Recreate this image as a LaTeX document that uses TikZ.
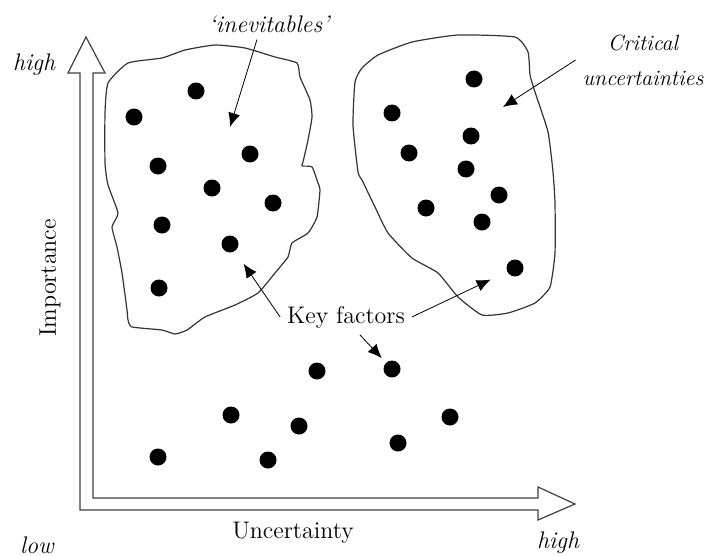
\documentclass[tikz,border=0pt]{standalone}
\usepackage{tikz}
\usetikzlibrary{arrows.meta}

\begin{document}
\begin{tikzpicture}[x=0.5pt,y=-0.5pt,>={Latex[length=7pt,width=6pt]},
    dot/.style={circle,fill=black,inner sep=0pt,minimum size=8.5pt},
    lbl/.style={font=\large\itshape},
    txt/.style={font=\large},
    blob/.style={black!80,line width=0.6pt,line join=round}]
            \useasboundingbox (0,0) rectangle (706,556);
            % axes
            \draw[black!75,line width=0.6pt](93,498)--(93,73)--(105,73)--(86,37)--(68,73)--(80,73)--(80,510)
                --(538,510)--(538,520)--(575,504)--(538,487)--(538,498)--cycle;
            \node[lbl](hiy) at(34,65){high};
            \node[lbl](low) at(37,545){low};
            \node[lbl](hix) at(558,543){high};
            \node[txt](unc) at(293,533){Uncertainty};
            \node[txt,rotate=90](imp) at(50,278){Importance};
            % the two groups
            \draw[blob] plot[smooth cycle,tension=0.3] coordinates{(108,83)(128,63)(162,58)(185,50)(215,45)(245,48)(275,57)(297,63)(300,77)(310,100)(312,117)(308,140)(303,162)(302,166)(312,167)(318,183)(320,190)(317,217)(308,233)(292,243)(288,257)(275,273)(258,293)(235,305)(205,317)(187,330)(175,334)(162,330)(132,327)(128,320)(127,310)(122,273)(117,247)(112,227)(118,213)(108,185)(105,163)(105,113)};
            \draw[blob] plot[smooth cycle,tension=0.3] coordinates{(355,82)(362,68)(378,55)(412,42)(458,35)(515,37)(528,52)(530,75)(535,92)(548,132)(553,172)(555,203)(555,253)(550,287)(535,303)(508,313)(482,315)(458,297)(438,273)(412,258)(388,233)(375,207)(362,180)(358,172)(353,125)};
            % factors
            \node[dot](i1) at(196,91){};  \node[dot](i2) at(134,117){}; \node[dot](i3) at(250,154){};
            \node[dot](i4) at(158,166){}; \node[dot](i5) at(212,188){}; \node[dot](i6) at(273,203){};
            \node[dot](i7) at(162,225){}; \node[dot](i8) at(230,244){}; \node[dot](i9) at(159,288){};
            \node[dot](c1) at(474,79){};  \node[dot](c2) at(392,113){}; \node[dot](c3) at(471,136){};
            \node[dot](c4) at(409,153){}; \node[dot](c5) at(466,169){}; \node[dot](c6) at(499,195){};
            \node[dot](c7) at(426,208){}; \node[dot](c8) at(482,222){}; \node[dot](c9) at(515,268){};
            \node[dot](o1) at(317,371){}; \node[dot](o2) at(392,369){}; \node[dot](o3) at(231,415){};
            \node[dot](o4) at(299,426){}; \node[dot](o5) at(450,417){}; \node[dot](o6) at(398,443){};
            \node[dot](o7) at(158,457){}; \node[dot](o8) at(268,460){};
            % labels and pointers
            \node[lbl](inev) at(269,24){`inevitables'};
            \node[font={\fontsize{11}{17.5}\selectfont\itshape},align=center](crit) at(643,60){Critical\\uncertainties};
            \node[txt](kf) at(346,317){Key factors};
            \coordinate(inevtip) at(230,127);
            \coordinate(crittip) at(503,107);
            \draw[->]([xshift=-6pt]inev.south)--(inevtip);
            \draw[->](crit.west)--(crittip);
            \draw[->,shorten >=7.5pt](kf.west)--(i8);
            \draw[->,shorten >=9pt](kf.east)--(c9);
            \draw[->,shorten >=3pt]([xshift=7pt]kf.south)--(o2);
        \end{tikzpicture}
\end{document}
